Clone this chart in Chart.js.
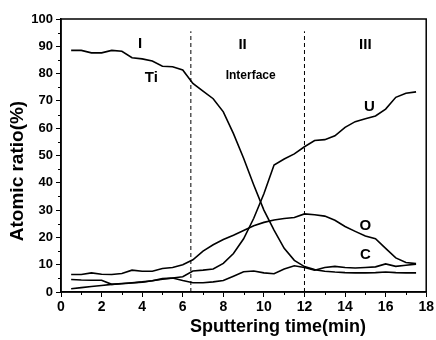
<!DOCTYPE html>
<html>
<head>
<meta charset="utf-8">
<script src="https://cdn.jsdelivr.net/npm/chart.js@4/dist/chart.umd.min.js"></script>
<style>
	html, body { margin: 0; padding: 0; background: #fff; }
	canvas { display: block; }
</style>
</head>
<body>
<canvas id="depth_chart" width="436" height="340"></canvas>
<script>
// Sputtering time (min), sampled every 0.5 min.
const times = [0.5, 1.0, 1.5, 2.0, 2.5, 3.0, 3.5, 4.0, 4.5, 5.0, 5.5, 6.0, 6.5, 7.0, 7.5, 8.0, 8.5,
	9.0, 9.5, 10.0, 10.5, 11.0, 11.5, 12.0, 12.5, 13.0, 13.5, 14.0, 14.5, 15.0, 15.5, 16.0, 16.5, 17.0, 17.5];

// Atomic ratio (%) for each element.
const tiValues = [88.5, 88.5, 87.6, 87.6, 88.5, 88.2, 85.8, 85.4, 84.6, 82.7, 82.5, 81.3, 76.4, 73.6, 70.8, 66.0, 58.0,
	49.0, 39.2, 30.0, 22.7, 16.0, 11.6, 9.3, 8.2, 7.6, 7.3, 7.1, 7.0, 7.0, 7.1, 7.3, 7.1, 7.0, 7.0];
const uValues = [1.2, 1.6, 2.0, 2.4, 2.8, 3.1, 3.4, 3.7, 4.1, 4.7, 5.1, 5.6, 7.7, 8.0, 8.4, 10.5, 14.1,
	19.5, 27.0, 36.0, 46.5, 48.7, 50.6, 53.2, 55.5, 55.8, 57.2, 60.3, 62.4, 63.5, 64.5, 67.0, 71.3, 72.8, 73.3];
const oValues = [6.4, 6.4, 7.0, 6.5, 6.4, 6.8, 8.0, 7.6, 7.6, 8.6, 9.0, 10.0, 11.8, 15.0, 17.3, 19.2, 20.8,
	22.5, 24.3, 25.5, 26.4, 26.9, 27.3, 28.6, 28.3, 27.8, 26.3, 24.0, 22.2, 20.5, 19.5, 16.0, 12.5, 10.8, 10.4];
const cValues = [4.6, 4.4, 4.3, 4.3, 2.8, 3.0, 3.3, 3.6, 4.1, 4.9, 5.1, 4.2, 3.4, 3.4, 3.7, 4.2, 5.8,
	7.4, 7.7, 7.0, 6.7, 8.4, 9.6, 9.0, 8.0, 9.0, 9.4, 9.0, 8.8, 9.0, 9.2, 10.3, 9.4, 9.8, 10.2];

// Region boundaries (min) and how high the dashed lines reach.
const boundaries = [6.4, 12.0];
const boundaryTop = 95.5;

// Text labels placed in data coordinates.
const labelTexts = ['I', 'II', 'III', 'Ti', 'Interface', 'U', 'O', 'C'];
const labelX = [3.9, 8.95, 15.0, 4.45, 9.35, 15.2, 15.0, 15.0];
const labelY = [90.9, 90.5, 90.5, 78.3, 79.3, 67.8, 24.2, 13.5];
const labelSizes = [15, 15, 15, 15, 12, 15, 15, 15];

const xTitle = 'Sputtering time(min)';
const yTitle = 'Atomic ratio(%)';

const FONT = "'Liberation Sans', Arial, sans-serif";
const INK = '#000';

function toPoints(values) {
	return values.map((v, i) => ({ x: times[i], y: v }));
}

function seriesLine(label, values) {
	return {
		label: label,
		data: toPoints(values),
		borderColor: INK,
		borderWidth: 1.6,
		pointRadius: 0,
		tension: 0,
		fill: false,
	};
}

const boundaryDatasets = boundaries.map(b => ({
	label: 'boundary',
	data: [{ x: b, y: 0 }, { x: b, y: boundaryTop }],
	borderColor: INK,
	borderWidth: 1,
	borderDash: [4, 3],
	pointRadius: 0,
	fill: false,
}));

// Frame, minor ticks, axis titles and text labels.
const decorPlugin = {
	id: 'decor',
	afterDraw(chart) {
		const { ctx, chartArea, scales } = chart;
		ctx.save();
		ctx.strokeStyle = INK;
		ctx.lineWidth = 1.5;
		ctx.strokeRect(chartArea.left, chartArea.top, chartArea.right - chartArea.left, chartArea.bottom - chartArea.top);

		// Minor ticks
		ctx.lineWidth = 1;
		ctx.beginPath();
		for (let v = 1; v < 18; v += 2) {
			const px = Math.round(scales.x.getPixelForValue(v)) + 0.5;
			ctx.moveTo(px, chartArea.bottom);
			ctx.lineTo(px, chartArea.bottom + 3);
		}
		for (let v = 5; v < 100; v += 10) {
			const py = Math.round(scales.y.getPixelForValue(v)) + 0.5;
			ctx.moveTo(chartArea.left - 3, py);
			ctx.lineTo(chartArea.left, py);
		}
		ctx.stroke();

		ctx.fillStyle = INK;
		ctx.textAlign = 'center';
		ctx.textBaseline = 'middle';
		labelTexts.forEach((t, i) => {
			ctx.font = `bold ${labelSizes[i]}px ${FONT}`;
			ctx.fillText(t, scales.x.getPixelForValue(labelX[i]), scales.y.getPixelForValue(labelY[i]));
		});

		// Axis titles, set off-centre like the original figure
		ctx.font = `bold 18px ${FONT}`;
		ctx.fillText(xTitle, 278, 327);
		ctx.translate(18, 171);
		ctx.rotate(-Math.PI / 2);
		ctx.font = `bold 19px ${FONT}`;
		ctx.fillText(yTitle, 0, 0);
		ctx.restore();
	}
};

const ctx = document.getElementById('depth_chart').getContext('2d');
new Chart(ctx, {
	type: 'line',
	data: {
		datasets: [
			seriesLine('Ti', tiValues),
			seriesLine('U', uValues),
			seriesLine('O', oValues),
			seriesLine('C', cValues),
			...boundaryDatasets,
		]
	},
	options: {
		responsive: false,
		animation: false,
		layout: {
			padding: { top: 19, right: 6, left: 0, bottom: 0 }
		},
		scales: {
			x: {
				type: 'linear',
				min: 0,
				max: 18,
				ticks: {
					stepSize: 2,
					color: INK,
					padding: 2,
					maxRotation: 0,
					font: { family: FONT, size: 14, weight: 'bold' }
				},
				grid: {
					drawOnChartArea: false,
					drawTicks: true,
					tickLength: 5,
					color: INK,
				},
				border: { color: INK, width: 1.5 },
				afterFit(scale) { scale.height = 48; }
			},
			y: {
				min: 0,
				max: 100,
				ticks: {
					stepSize: 10,
					color: INK,
					padding: 3,
					font: { family: FONT, size: 13, weight: 'bold' }
				},
				grid: {
					drawOnChartArea: false,
					drawTicks: true,
					tickLength: 5,
					color: INK,
				},
				border: { color: INK, width: 1.5 },
				afterFit(scale) { scale.width = 61; }
			}
		},
		plugins: {
			legend: { display: false },
			tooltip: { enabled: false }
		}
	},
	plugins: [decorPlugin]
});
</script>
</body>
</html>
